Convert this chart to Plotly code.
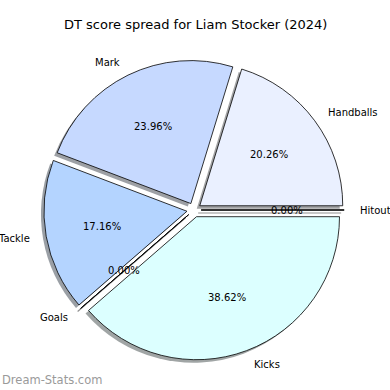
import numpy as np
import plotly.graph_objects as go

# ---- data ----
categories = ["Hitout", "Handballs", "Mark", "Tackle", "Goals", "Kicks"]
values = [0.00, 20.26, 23.96, 17.16, 0.00, 38.62]
colors = ["#eef3ff", "#eaf0ff", "#c6d9ff", "#b4d4ff", "#bcdcff", "#dcffff"]
title_text = "DT score spread for Liam Stocker (2024)"
watermark = "Dream-Stats.com"

# ---- layout constants (pixels) ----
W = H = 390
CX, CY = 194, 210
R = 143
PULL = 0.05
SDX, SDY = -3, 3
FONT = "DejaVu Sans"


def domain(cx, cy):
    half = R * (1 + PULL)
    return dict(x=[(cx - half) / W, (cx + half) / W],
                y=[1 - (cy + half) / H, 1 - (cy - half) / H])


def shadow_col(hexc):
    h = hexc.lstrip("#")
    r, g, b = (int(h[i:i + 2], 16) for i in (0, 2, 4))
    return "rgba(%d,%d,%d,0.5)" % (r * 0.3, g * 0.3, b * 0.3)


fig = go.Figure()
fig.add_trace(go.Pie(
    labels=categories, values=values, sort=False, direction="counterclockwise",
    rotation=90, pull=[PULL] * len(values), textinfo="none", hoverinfo="skip",
    marker=dict(colors=[shadow_col(c) for c in colors], line=dict(width=0)),
    domain=domain(CX + SDX, CY + SDY), showlegend=False))
fig.add_trace(go.Pie(
    labels=categories, values=values, sort=False, direction="counterclockwise",
    rotation=90, pull=[PULL] * len(values), textinfo="none", hoverinfo="skip",
    marker=dict(colors=colors, line=dict(color="black", width=0.8)),
    domain=domain(CX, CY), showlegend=False))

total = float(sum(values))
cum = 0.0
annotations = []
shapes = []
d = PULL * R
for cat, v in zip(categories, values):
    t1 = 360.0 * cum / total
    t2 = 360.0 * (cum + v) / total
    cum += v
    mid = np.radians((t1 + t2) / 2)
    ex, ey = CX + d * np.cos(mid), CY - d * np.sin(mid)
    lx, ly = ex + 1.1 * R * np.cos(mid), ey - 1.1 * R * np.sin(mid)
    px_, py_ = ex + 0.6 * R * np.cos(mid), ey - 0.6 * R * np.sin(mid)
    annotations.append(dict(x=lx / W, y=1 - ly / H, xref="paper", yref="paper",
                            text=cat, showarrow=False,
                            xanchor="left" if np.cos(mid) > 1e-9 else "right",
                            yanchor="middle", font=dict(family=FONT, size=10, color="black")))
    annotations.append(dict(x=px_ / W, y=1 - py_ / H, xref="paper", yref="paper",
                            text="%.2f%%" % (100 * v / total), showarrow=False,
                            xanchor="center", yanchor="middle",
                            font=dict(family=FONT, size=10, color="black")))
    if v == 0:
        ox, oy = ex + R * np.cos(mid), ey - R * np.sin(mid)
        shapes.append(dict(type="line", xref="paper", yref="paper",
                           x0=(ex + SDX) / W, y0=1 - (ey + SDY) / H,
                           x1=(ox + SDX) / W, y1=1 - (oy + SDY) / H,
                           line=dict(color="rgba(70,70,70,0.6)", width=1.2)))
        shapes.append(dict(type="line", xref="paper", yref="paper",
                           x0=ex / W, y0=1 - ey / H, x1=ox / W, y1=1 - oy / H,
                           line=dict(color="black", width=0.9)))

annotations.append(dict(x=0.5, y=1 - 25 / H, xref="paper", yref="paper", text=title_text,
                        showarrow=False, xanchor="center", yanchor="middle",
                        font=dict(family=FONT, size=13, color="black")))
annotations.append(dict(x=0, y=1 - 380 / H, xref="paper", yref="paper", text=watermark,
                        showarrow=False, xanchor="left", yanchor="middle",
                        font=dict(family=FONT, size=11.5, color="#9a9a9a")))

fig.update_layout(width=W, height=H, margin=dict(l=0, r=0, t=0, b=0),
                  paper_bgcolor="white", plot_bgcolor="white",
                  annotations=annotations, shapes=shapes)
fig.write_html("out.html", config={"displayModeBar": False},
               post_script="document.body.style.margin='0px';")
